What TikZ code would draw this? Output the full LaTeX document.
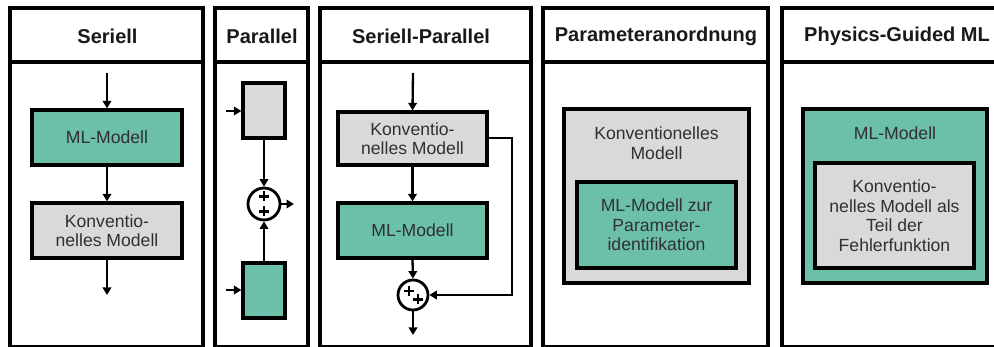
\documentclass[tikz,border=0pt]{standalone}
\usepackage{fontspec}
\setmainfont{Liberation Sans}
\usetikzlibrary{arrows.meta}
\definecolor{mlgreen}{HTML}{6CBFA8}
\definecolor{convgray}{HTML}{D9D9D9}
\definecolor{txt}{HTML}{303030}
\tikzset{
  panel/.style={draw=black, line width=3.5pt},
  title/.style={font=\fontsize{20}{22}\selectfont\bfseries, text=black!90},
  box/.style={draw=black, line width=3.2pt, inner sep=0pt, align=center,
    text=txt, font=\fontsize{17.6}{19.5}\selectfont},
  mlbox/.style={box, fill=mlgreen},
  convbox/.style={box, fill=convgray},
  sumnode/.style={circle, draw=black, line width=2.8pt, fill=white, inner sep=0pt},
  flow/.style={line width=2.3pt, -{Triangle[length=7.5pt,width=8.5pt]}},
  plus/.style={line width=2.2pt},
  lbl/.style={text=txt, font=\fontsize{17.6}{19.5}\selectfont, align=center, inner sep=0pt}
}
\begin{document}
\begin{tikzpicture}[x=1pt,y=-1pt]
\useasboundingbox (0,0) rectangle (994,347);
\fill[white] (0,0) rectangle (994,347);
\clip (0,0) rectangle (994,347);

% ---------- panel frames and headers ----------
\foreach \xa/\xb in {10/203, 215/308, 320/531, 543/768, 782/1012}{
  \draw[panel] (\xa,8) rectangle (\xb,346.5);
  \draw[panel] (\xa,62) -- (\xb,62);
}
\node[title] (t1) at (107.5,36) {Seriell};
\node[title] (t2) at (262,36) {Parallel};
\node[title] (t3) at (421,36) {Seriell-Parallel};
\node[title] (t4) at (656,36) {Parameteranordnung};
\node[title] (t5) at (897,36) {Physics-Guided ML};

% ---------- Seriell ----------
\coordinate (s-in) at (107,73);
\coordinate (s-out) at (107,295);
\node[mlbox, minimum width=150pt, minimum height=55pt] (s-ml) at (107,137.5) {ML-Modell};
\node[convbox, minimum width=150pt, minimum height=55pt] (s-conv) at (107,230.5) {Konventio-\\nelles Modell};
\draw[flow] (s-in) -- (s-ml.north);
\draw[flow] (s-ml.south) -- (s-conv.north);
\draw[flow] (s-conv.south) -- (s-out);

% ---------- Parallel ----------
\node[convbox, minimum width=42pt, minimum height=55pt] (p-conv) at (264,110.5) {};
\node[mlbox, minimum width=42pt, minimum height=55pt] (p-ml) at (264,290.5) {};
\node[sumnode, minimum size=32pt] (p-sum) at (264,204) {};
\coordinate (p-in1) at (226,111);
\coordinate (p-in2) at (226,290);
\coordinate (p-out) at (294,204);
\draw[flow] (p-in1) -- (p-in1 -| p-conv.west);
\draw[flow] (p-in2) -- (p-in2 -| p-ml.west);
\draw[flow] (p-conv.south) -- (p-sum.north);
\draw[flow] (p-ml.north) -- (p-sum.south);
\draw[flow] (p-sum.east) -- (p-out);
\draw[plus] ([shift={(-5,-7.5)}]p-sum.center) -- ++(10,0)
            ([shift={(0,-12.5)}]p-sum.center) -- ++(0,10);
\draw[plus] ([shift={(-5,7.5)}]p-sum.center) -- ++(10,0)
            ([shift={(0,2.5)}]p-sum.center) -- ++(0,10);

% ---------- Seriell-Parallel ----------
\coordinate (sp-in) at (413,73);
\coordinate (sp-out) at (413,335);
\node[convbox, minimum width=149pt, minimum height=53pt] (sp-conv) at (412.5,138.5) {Konventio-\\nelles Modell};
\node[mlbox, minimum width=149pt, minimum height=55pt] (sp-ml) at (412.5,230.5) {ML-Modell};
\node[sumnode, minimum size=30pt] (sp-sum) at (413,295) {};
\coordinate (sp-turn) at (512,138);
\draw[flow] (sp-in) -- (sp-conv.north);
\draw[flow] (sp-conv.south) -- (sp-ml.north);
\draw[flow] (sp-ml.south) -- (sp-sum.north);
\draw[flow] (sp-sum.south) -- (sp-out);
\draw[flow] (sp-conv.east |- sp-turn) -- (sp-turn) |- (sp-sum.east);
\draw[plus] ([shift={(-9,-4)}]sp-sum.center) -- ++(10,0)
            ([shift={(-4,-9)}]sp-sum.center) -- ++(0,10);
\draw[plus] ([shift={(0,4.5)}]sp-sum.center) -- ++(10,0)
            ([shift={(5,-0.5)}]sp-sum.center) -- ++(0,10);

% ---------- Parameteranordnung ----------
\node[convbox, minimum width=185pt, minimum height=174pt] (pa-conv) at (656.5,196) {};
\node[lbl] (pa-lbl) at (656.5,143) {Konventionelles\\Modell};
\node[mlbox, line width=4.2pt, minimum width=159pt, minimum height=86pt] (pa-ml) at (656.5,225) {ML-Modell zur\\Parameter-\\identifikation};

% ---------- Physics-Guided ML ----------
\node[mlbox, minimum width=184pt, minimum height=174pt] (pg-ml) at (895,196) {};
\node[lbl] (pg-lbl) at (895,133) {ML-Modell};
\node[convbox, line width=4.2pt, minimum width=159pt, minimum height=105pt] (pg-conv) at (894.5,215.5) {Konventio-\\nelles Modell als\\Teil der\\Fehlerfunktion};
\end{tikzpicture}
\end{document}
